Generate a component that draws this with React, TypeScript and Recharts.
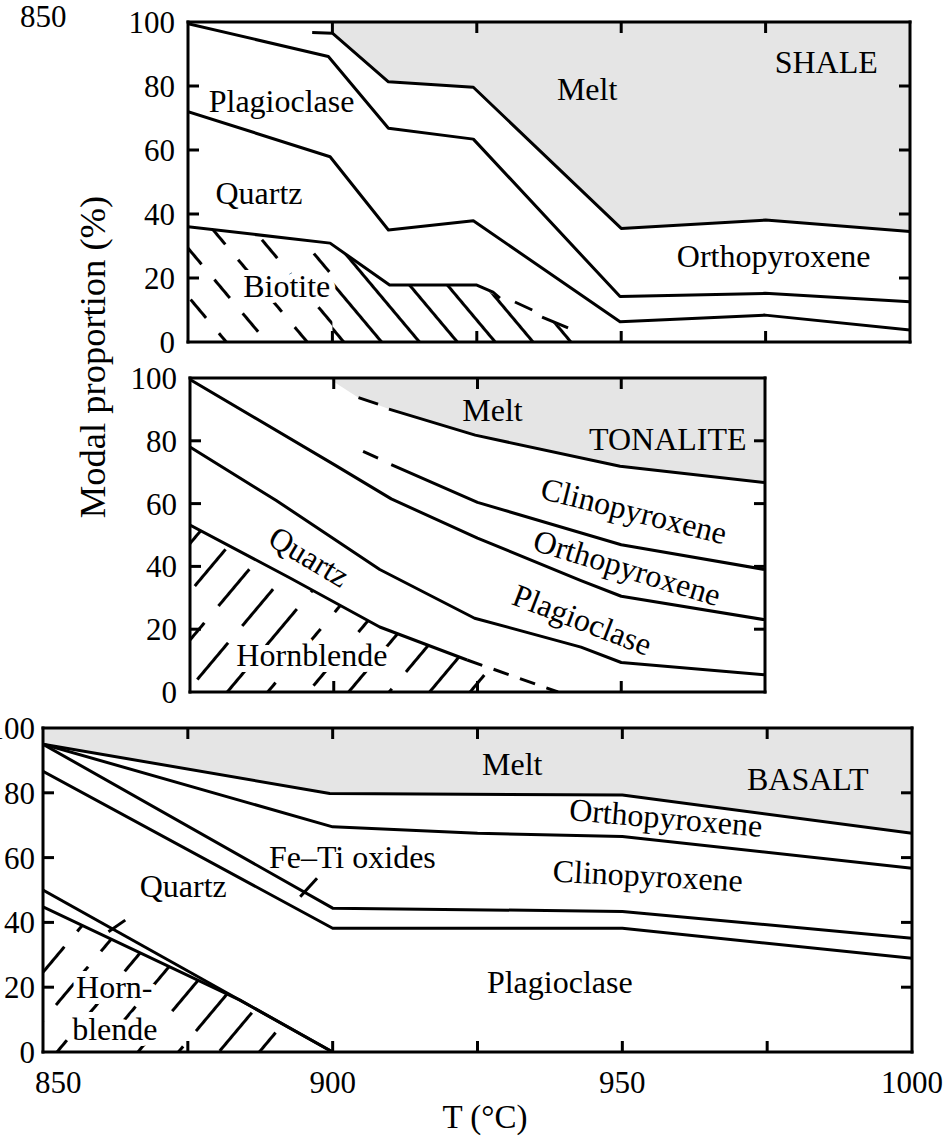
import React from "react";
import { Area, ComposedChart, Line, ReferenceDot, ReferenceLine, XAxis, YAxis } from "recharts";

type Pt = { t: number; v: number };

const FONT = "'Liberation Serif', 'Times New Roman', Times, serif";
const MELT_GREY = "#e5e5e5";
const TICK = 11;

// y ticks shared by all panels; inner ones get a tick mark on both sides
const yTicks = [0, 20, 40, 60, 80, 100];
const yInnerTicks = [20, 40, 60, 80];

// ---------- SHALE ----------
const shaleXTicks = [900, 925, 950, 975];
const shaleMelt: Pt[] = [
  { t: 896.5, v: 96.7 }, { t: 900, v: 96.5 }, { t: 909.7, v: 81.3 }, { t: 924.4, v: 79.6 },
  { t: 950, v: 35.5 }, { t: 975, v: 38.1 }, { t: 1000, v: 34.5 }
];
const shaleMeltFill: Pt[] = [
  { t: 900, v: 96.5 }, { t: 909.7, v: 81.3 }, { t: 924.4, v: 79.6 },
  { t: 950, v: 35.5 }, { t: 975, v: 38.1 }, { t: 1000, v: 34.5 }
];
const shalePlagTop: Pt[] = [
  { t: 875, v: 99.5 }, { t: 899.3, v: 89.2 }, { t: 909.7, v: 66.8 }, { t: 924.4, v: 63.4 },
  { t: 949.8, v: 14.2 }, { t: 974.9, v: 15.2 }, { t: 1000, v: 12.6 }
];
const shaleQtzTop: Pt[] = [
  { t: 875, v: 72 }, { t: 899.6, v: 57.9 }, { t: 909.7, v: 35 }, { t: 924.4, v: 37.9 },
  { t: 949.8, v: 6.3 }, { t: 974.9, v: 8.4 }, { t: 1000, v: 3.75 }
];
const shaleBiotite: Pt[] = [
  { t: 875, v: 36 }, { t: 899.6, v: 30.9 }, { t: 909.9, v: 17.8 }, { t: 925, v: 17.8 },
  { t: 927.8, v: 15.6 }, { t: 929, v: 13.7 }
];
const shaleBiotiteDash1: Pt[] = [{ t: 931.6, v: 12.5 }, { t: 934.6, v: 10 }];
const shaleBiotiteDash2: Pt[] = [{ t: 936.3, v: 7.8 }, { t: 940.8, v: 4.4 }];
const shaleHatchLeft: Pt[] = [{ t: 875, v: 36 }, { t: 900, v: 30.6 }];
const shaleHatchRight: Pt[] = [
  { t: 900, v: 30.6 }, { t: 909.9, v: 17.8 }, { t: 925, v: 17.8 }, { t: 929, v: 13.7 },
  { t: 935, v: 9 }, { t: 941, v: 3.5 }, { t: 943, v: 0 }
];

// ---------- TONALITE ----------
const tonXTicks = [900, 925, 950];
const tonMeltFill: Pt[] = [
  { t: 899, v: 100 }, { t: 904.3, v: 93.75 }, { t: 909.6, v: 90.1 }, { t: 924.6, v: 81.8 },
  { t: 949.8, v: 71.9 }, { t: 975, v: 66.7 }
];
const tonMelt: Pt[] = [
  { t: 909.6, v: 90.1 }, { t: 924.6, v: 81.8 }, { t: 949.8, v: 71.9 }, { t: 975, v: 66.7 }
];
const tonMeltDash: Pt[] = [{ t: 904.3, v: 93.75 }, { t: 907.7, v: 91.7 }];
const tonCpxOpx: Pt[] = [
  { t: 910, v: 72.4 }, { t: 925, v: 60.4 }, { t: 950, v: 46.9 }, { t: 975, v: 39 }
];
const tonCpxOpxDash: Pt[] = [{ t: 905.1, v: 76.6 }, { t: 907.7, v: 74.5 }];
const tonOpxPlag: Pt[] = [
  { t: 875, v: 99.5 }, { t: 900, v: 72.5 }, { t: 910, v: 61.5 }, { t: 925, v: 49 },
  { t: 943, v: 35.5 }, { t: 950, v: 30.5 }, { t: 975, v: 23 }
];
const tonPlagQtz: Pt[] = [
  { t: 875, v: 78 }, { t: 890, v: 61 }, { t: 908, v: 39 }, { t: 924.5, v: 23.5 },
  { t: 943, v: 14.3 }, { t: 950, v: 9.4 }, { t: 975, v: 5.5 }
];
const tonHbl: Pt[] = [
  { t: 875, v: 53.2 }, { t: 892.4, v: 36.3 }, { t: 908, v: 20.7 }, { t: 923.2, v: 10.2 }
];
const tonHblDash: Pt[] = [{ t: 923.2, v: 10.2 }, { t: 939, v: 0 }];
const tonHatch: Pt[] = [
  { t: 875, v: 53.2 }, { t: 892.4, v: 36.3 }, { t: 908, v: 20.7 }, { t: 923.2, v: 10.2 }, { t: 939, v: 0 }
];

// ---------- BASALT ----------
const basXTicks = [850, 875, 900, 925, 950, 975, 1000];
const basXLabels = [850, 900, 950, 1000];
const basMelt: Pt[] = [
  { t: 850, v: 95 }, { t: 899.5, v: 79.8 }, { t: 950, v: 79.3 }, { t: 1000, v: 67.5 }
];
const basOpxCpx: Pt[] = [
  { t: 850, v: 95 }, { t: 900, v: 69.5 }, { t: 925, v: 67.5 }, { t: 950, v: 66.5 }, { t: 1000, v: 56.7 }
];
const basCpxFeTi: Pt[] = [
  { t: 850, v: 95 }, { t: 900, v: 44.4 }, { t: 950, v: 43.4 }, { t: 1000, v: 35.1 }
];
const basFeTiPlag: Pt[] = [
  { t: 850, v: 86.6 }, { t: 900, v: 38.2 }, { t: 950, v: 38.2 }, { t: 1000, v: 28.9 }
];
const basQtzUpper: Pt[] = [{ t: 850, v: 50 }, { t: 900, v: 0 }];
const basQtzLower: Pt[] = [{ t: 850, v: 44.8 }, { t: 884, v: 16 }, { t: 900, v: 0 }];
const basFeTiMark: Pt[] = [{ t: 894.4, v: 47.9 }, { t: 897.3, v: 53.6 }];
const basQtzMark: Pt[] = [{ t: 861.3, v: 37.1 }, { t: 864.2, v: 40.7 }];

type Label = { text: string; t: number; v: number; angle?: number; halo?: boolean };

const shaleLabels: Label[] = [
  { text: "Plagioclase", t: 891.2, v: 75.3 },
  { text: "Quartz", t: 887.3, v: 46.4 },
  { text: "Biotite", t: 892.1, v: 17.4, halo: true },
  { text: "Melt", t: 944.1, v: 78.9 },
  { text: "SHALE", t: 985.5, v: 87.3 },
  { text: "Orthopyroxene", t: 976.4, v: 26.8 }
];
const tonLabels: Label[] = [
  { text: "Melt", t: 927.6, v: 89.8 },
  { text: "TONALITE", t: 958.1, v: 80.4 },
  { text: "Clinopyroxene", t: 952.2, v: 57.6, angle: 14 },
  { text: "Orthopyroxene", t: 951, v: 39.5, angle: 17 },
  { text: "Plagioclase", t: 943.2, v: 22.9, angle: 21 },
  { text: "Quartz", t: 895.7, v: 43, angle: 31 },
  { text: "Hornblende", t: 896.2, v: 11.6, halo: true }
];
const basLabels: Label[] = [
  { text: "Melt", t: 931, v: 88.7 },
  { text: "BASALT", t: 982, v: 84.1 },
  { text: "Orthopyroxene", t: 957.5, v: 72.2, angle: 5 },
  { text: "Clinopyroxene", t: 954.4, v: 54.3, angle: 3 },
  { text: "Plagioclase", t: 939.2, v: 21.5 },
  { text: "Fe\u2013Ti oxides", t: 903.4, v: 60 },
  { text: "Quartz", t: 874.2, v: 51.2 },
  { text: "Horn-", t: 862.3, v: 19.9, halo: true },
  { text: "blende", t: 862.4, v: 6.9, halo: true }
];

type Hatch = { data: Pt[]; angle: number; dash?: string; gap: number; period: number };
type Boundary = { data: Pt[]; dash?: string };

interface PanelProps {
  id: string;
  top: number;
  height: number;
  margin: { top: number; right: number; bottom: number; left: number };
  yAxisWidth: number;
  labelGap: number;
  xAxisHeight: number;
  domain: [number, number];
  xTicks: number[];
  xLabels?: number[];
  melt: Pt[];
  hatches: Hatch[];
  lines: Boundary[];
  labels: Label[];
}

function Panel(p: PanelProps) {
  const plotW = 949 - p.margin.left - p.margin.right - p.yAxisWidth;
  const plotH = p.height - p.margin.top - p.margin.bottom - p.xAxisHeight;
  // tick length expressed in data units so the marks go through the scales
  const tickV = (TICK * 100) / plotH;
  const tickT = (TICK * (p.domain[1] - p.domain[0])) / plotW;
  const [t0, t1] = p.domain;

  const leftTick = (tp: any) => {
    const { x, y, payload } = tp;
    return (
      <text x={x - p.labelGap} y={y + 11} textAnchor="end" fontFamily={FONT} fontSize={31} fill="#000">
        {payload.value}
      </text>
    );
  };
  const bottomTick = (tp: any) => {
    const { x, y, payload } = tp;
    const v = payload.value;
    if (!p.xLabels || !p.xLabels.includes(v)) return <g />;
    return (
      <text
        x={v === t0 ? x - 8 : x}
        y={y + 41}
        textAnchor={v === t0 ? "start" : "middle"}
        fontFamily={FONT}
        fontSize={31}
        fill="#000"
      >
        {v}
      </text>
    );
  };

  const meltRange = p.melt.map((d) => ({ t: d.t, range: [d.v, 100] }));
  const frame = { stroke: "#000", strokeWidth: 3, ifOverflow: "visible" as const, strokeLinecap: "square" as const };
  const tickStyle = { stroke: "#000", strokeWidth: 3, ifOverflow: "visible" as const };

  return (
    <div style={{ position: "absolute", left: 0, top: p.top, width: 949, height: p.height }}>
      <ComposedChart width={949} height={p.height} margin={p.margin}>
        <defs>
          {p.hatches.map((h, i) => (
            <pattern
              key={i}
              id={`${p.id}-hatch-${i}`}
              patternUnits="userSpaceOnUse"
              width={h.gap}
              height={h.period}
              patternTransform={`rotate(${h.angle})`}
            >
              <line
                x1={h.gap / 2}
                x2={h.gap / 2}
                y1={0}
                y2={h.period}
                stroke="#000"
                strokeWidth={3}
                strokeDasharray={h.dash}
              />
            </pattern>
          ))}
        </defs>
        <XAxis
          type="number"
          dataKey="t"
          domain={p.domain}
          ticks={p.xLabels ? p.xTicks : []}
          interval={0}
          allowDataOverflow
          height={p.xAxisHeight}
          tickSize={0}
          tickMargin={0}
          tickLine={false}
          axisLine={false}
          tick={bottomTick}
        />
        <YAxis
          type="number"
          domain={[0, 100]}
          ticks={yTicks}
          interval={0}
          allowDataOverflow
          width={p.yAxisWidth}
          tickSize={0}
          tickMargin={0}
          tickLine={false}
          axisLine={false}
          tick={leftTick}
        />
        <Area
          data={meltRange}
          dataKey="range"
          type="linear"
          fill={MELT_GREY}
          fillOpacity={1}
          stroke="none"
          dot={false}
          activeDot={false}
          isAnimationActive={false}
        />
        {p.hatches.map((h, i) => (
          <Area
            key={`h${i}`}
            data={h.data}
            dataKey="v"
            type="linear"
            baseValue={0}
            fill={`url(#${p.id}-hatch-${i})`}
            fillOpacity={1}
            stroke="none"
            dot={false}
            activeDot={false}
            isAnimationActive={false}
          />
        ))}
        {p.lines.map((l, i) => (
          <Line
            key={`l${i}`}
            data={l.data}
            dataKey="v"
            type="linear"
            stroke="#000"
            strokeWidth={3}
            strokeDasharray={l.dash}
            strokeLinejoin="round"
            dot={false}
            activeDot={false}
            isAnimationActive={false}
          />
        ))}
        {/* frame */}
        <ReferenceLine x={t0} {...frame} />
        <ReferenceLine x={t1} {...frame} />
        <ReferenceLine y={0} {...frame} />
        <ReferenceLine y={100} {...frame} />
        {/* inward tick marks on all four sides */}
        {p.xTicks
          .filter((t) => t > t0 && t < t1)
          .map((t) => (
            <ReferenceLine key={`tb${t}`} segment={[{ x: t, y: 0 }, { x: t, y: tickV }]} {...tickStyle} />
          ))}
        {p.xTicks
          .filter((t) => t > t0 && t < t1)
          .map((t) => (
            <ReferenceLine key={`tt${t}`} segment={[{ x: t, y: 100 }, { x: t, y: 100 - tickV }]} {...tickStyle} />
          ))}
        {yInnerTicks.map((v) => (
          <ReferenceLine key={`tl${v}`} segment={[{ x: t0, y: v }, { x: t0 + tickT, y: v }]} {...tickStyle} />
        ))}
        {yInnerTicks.map((v) => (
          <ReferenceLine key={`tr${v}`} segment={[{ x: t1, y: v }, { x: t1 - tickT, y: v }]} {...tickStyle} />
        ))}
        {p.labels.map((lb, i) => (
          <ReferenceDot
            key={`t${i}`}
            x={lb.t}
            y={lb.v}
            r={0}
            shape={(sp: any) => (
              <text
                x={sp.cx}
                y={sp.cy}
                dy={10.5}
                textAnchor="middle"
                fontFamily={FONT}
                fontSize={32}
                fill="#000"
                stroke={lb.halo ? "#fff" : "none"}
                strokeWidth={lb.halo ? 12 : 0}
                strokeLinejoin="round"
                paintOrder="stroke"
                transform={lb.angle ? `rotate(${lb.angle} ${sp.cx} ${sp.cy})` : undefined}
              >
                {lb.text}
              </text>
            )}
          />
        ))}
      </ComposedChart>
    </div>
  );
}

export default function App() {
  return (
    <div style={{ position: "absolute", left: 0, top: 0, width: 949, height: 1139, background: "#fff", overflow: "hidden" }}>
      <Panel
        id="shale"
        top={0}
        height={360}
        margin={{ top: 22, right: 39, bottom: 18, left: 128 }}
        yAxisWidth={60}
        labelGap={13}
        xAxisHeight={0}
        domain={[875, 1000]}
        xTicks={shaleXTicks}
        melt={shaleMeltFill}
        hatches={[
          { data: shaleHatchLeft, angle: -40, gap: 31, period: 44, dash: "24 20" },
          { data: shaleHatchRight, angle: -40, gap: 29, period: 40 }
        ]}
        lines={[
          { data: shaleMelt },
          { data: shalePlagTop },
          { data: shaleQtzTop },
          { data: shaleBiotite },
          { data: shaleBiotiteDash1 },
          { data: shaleBiotiteDash2 }
        ]}
        labels={shaleLabels}
      />
      <Panel
        id="ton"
        top={360}
        height={350}
        margin={{ top: 18, right: 184, bottom: 18, left: 130 }}
        yAxisWidth={60}
        labelGap={13}
        xAxisHeight={0}
        domain={[875, 975]}
        xTicks={tonXTicks}
        melt={tonMeltFill}
        hatches={[{ data: tonHatch, angle: 40, gap: 31, period: 70, dash: "48 22" }]}
        lines={[
          { data: tonMelt },
          { data: tonMeltDash },
          { data: tonCpxOpx },
          { data: tonCpxOpxDash },
          { data: tonOpxPlag },
          { data: tonPlagQtz },
          { data: tonHbl },
          { data: tonHblDash, dash: "16 12" }
        ]}
        labels={tonLabels}
      />
      <Panel
        id="bas"
        top={710}
        height={429}
        margin={{ top: 18, right: 37, bottom: 0, left: 0 }}
        yAxisWidth={43}
        labelGap={8}
        xAxisHeight={87}
        domain={[850, 1000]}
        xTicks={basXTicks}
        xLabels={basXLabels}
        melt={basMelt}
        hatches={[{ data: basQtzLower, angle: 40, gap: 31, period: 70, dash: "50 20" }]}
        lines={[
          { data: basMelt },
          { data: basOpxCpx },
          { data: basCpxFeTi },
          { data: basFeTiPlag },
          { data: basQtzUpper },
          { data: basQtzLower },
          { data: basFeTiMark },
          { data: basQtzMark }
        ]}
        labels={basLabels}
      />
      <svg width={949} height={1139} style={{ position: "absolute", left: 0, top: 0, pointerEvents: "none" }}>
        <text x={20} y={27} fontFamily={FONT} fontSize={31} fill="#000">850</text>
        <text
          x={93}
          y={357}
          dy={12}
          textAnchor="middle"
          fontFamily={FONT}
          fontSize={36.5}
          fill="#000"
          transform="rotate(-90 93 357)"
        >
          Modal proportion (%)
        </text>
        <text x={485} y={1128} textAnchor="middle" fontFamily={FONT} fontSize={33} fill="#000">
          T (°C)
        </text>
      </svg>
    </div>
  );
}
